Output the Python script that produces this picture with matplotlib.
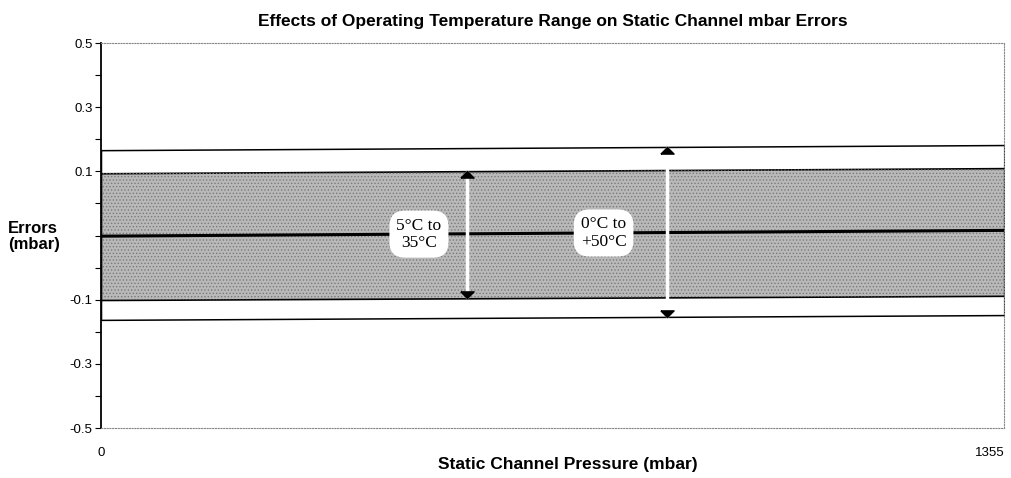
import matplotlib.pyplot as plt
import numpy as np
from matplotlib.path import Path

# pressure span and the error envelopes at both ends (mbar)
pressure = [0, 1355]
outer_upper = [0.166, 0.182]
inner_upper = [0.097, 0.110]
nominal = [-0.001, 0.008]
inner_lower = [-0.101, -0.094]
outer_lower = [-0.163, -0.148]

# where the range arrows and their labels sit along the pressure axis
narrow_x = 549
wide_x = 849
range_labels = ["5\u00b0C to\n35\u00b0C", "0\u00b0C to\n+50\u00b0C"]
label_x = [477, 754]

yticks = [0.5, 0.3, 0.1, -0.1, -0.3, -0.5]
yminor = [0.4, 0.2, 0.05, 0.0, -0.05, -0.2, -0.4]


# the band between -0.1 and 0.1 is drawn twice as tall as the rest
def stretch(y):
    y = np.asarray(y, dtype=float)
    return np.where(np.abs(y) <= 0.1, 2 * y, y + 0.1 * np.sign(y))


def unstretch(s):
    s = np.asarray(s, dtype=float)
    return np.where(np.abs(s) <= 0.2, s / 2, s - 0.1 * np.sign(s))


plt.rcParams['font.family'] = ['Liberation Sans', 'DejaVu Sans']
plt.rcParams['hatch.linewidth'] = 0.6

fig = plt.figure(figsize=(10.12, 4.78), dpi=100)
ax = fig.add_axes([0.0998, 0.1046, 0.8925, 0.8054])
ax.set_yscale('function', functions=(stretch, unstretch))

# outer (0 to 50 C) envelope, then the shaded 5 to 35 C band inside it
ax.fill_between(pressure, outer_lower, outer_upper, facecolor='white',
                edgecolor='black', linewidth=1.1, zorder=1)
ax.fill_between(pressure, inner_lower, inner_upper, facecolor='#b9b9b9',
                edgecolor='black', linewidth=1.2, zorder=2)
ax.fill_between(pressure, inner_lower, inner_upper, facecolor='none',
                edgecolor='#7a7a7a', hatch='.....', linewidth=0, zorder=2)
ax.plot(pressure, nominal, color='black', linewidth=2.2, zorder=3)

up_head = Path([(-1, -1), (1, -1), (0, 0), (-1, -1)])
down_head = Path([(-1, 1), (1, 1), (0, 0), (-1, 1)])

for x, lo, hi in [(narrow_x, inner_lower, inner_upper),
                  (wide_x, outer_lower, outer_upper)]:
    top = np.interp(x, pressure, hi)
    bottom = np.interp(x, pressure, lo)
    ax.vlines(x, bottom, top, color='white', linewidth=2.5, zorder=4)
    ax.plot([x], [top], marker=up_head, markersize=9.5, color='black',
            linestyle='none', zorder=5)
    ax.plot([x], [bottom], marker=down_head, markersize=9.5, color='black',
            linestyle='none', zorder=5)

for x, text in zip(label_x, range_labels):
    ax.text(x, np.interp(x, pressure, nominal), text, ha='center', va='center',
            family=['Liberation Serif', 'DejaVu Serif'], fontsize=12.5,
            linespacing=1.1, zorder=6,
            bbox=dict(boxstyle='round,pad=0.4,rounding_size=0.9',
                      facecolor='white', edgecolor='none'))

ax.set_xlim(0, 1355)
ax.set_ylim(-0.5, 0.5)
ax.set_xticks(pressure)
ax.set_xticklabels(['0', '1355'])
ax.tick_params(axis='x', length=0, pad=14, labelsize=9.5)
ax.get_xticklabels()[1].set_horizontalalignment('right')
ax.set_yticks(yticks)
ax.set_yticklabels([f'{v:.1f}' for v in yticks])
ax.set_yticks(yminor, minor=True)
ax.yaxis.set_minor_formatter(plt.NullFormatter())
ax.tick_params(axis='y', which='both', length=4, width=0.8, labelsize=9.5,
               direction='out', pad=2)

ax.spines['left'].set_linewidth(1.3)
for side in ['top', 'right', 'bottom']:
    ax.spines[side].set_linestyle((0, (1, 1.5)))
    ax.spines[side].set_color('#888888')
    ax.spines[side].set_linewidth(0.8)

ax.set_title('Effects of Operating Temperature Range on Static Channel mbar Errors',
             fontsize=12.5, fontweight='bold', pad=12)
ax.set_xlabel('Static Channel Pressure (mbar)', fontsize=12.5,
              fontweight='bold')
ax.xaxis.set_label_coords(0.517, -0.075)
fig.text(0.008, 0.505, 'Errors\n(mbar)', fontsize=12, fontweight='bold',
         ha='left', va='center', linespacing=1.05)

fig.savefig('out.png', dpi=100)
